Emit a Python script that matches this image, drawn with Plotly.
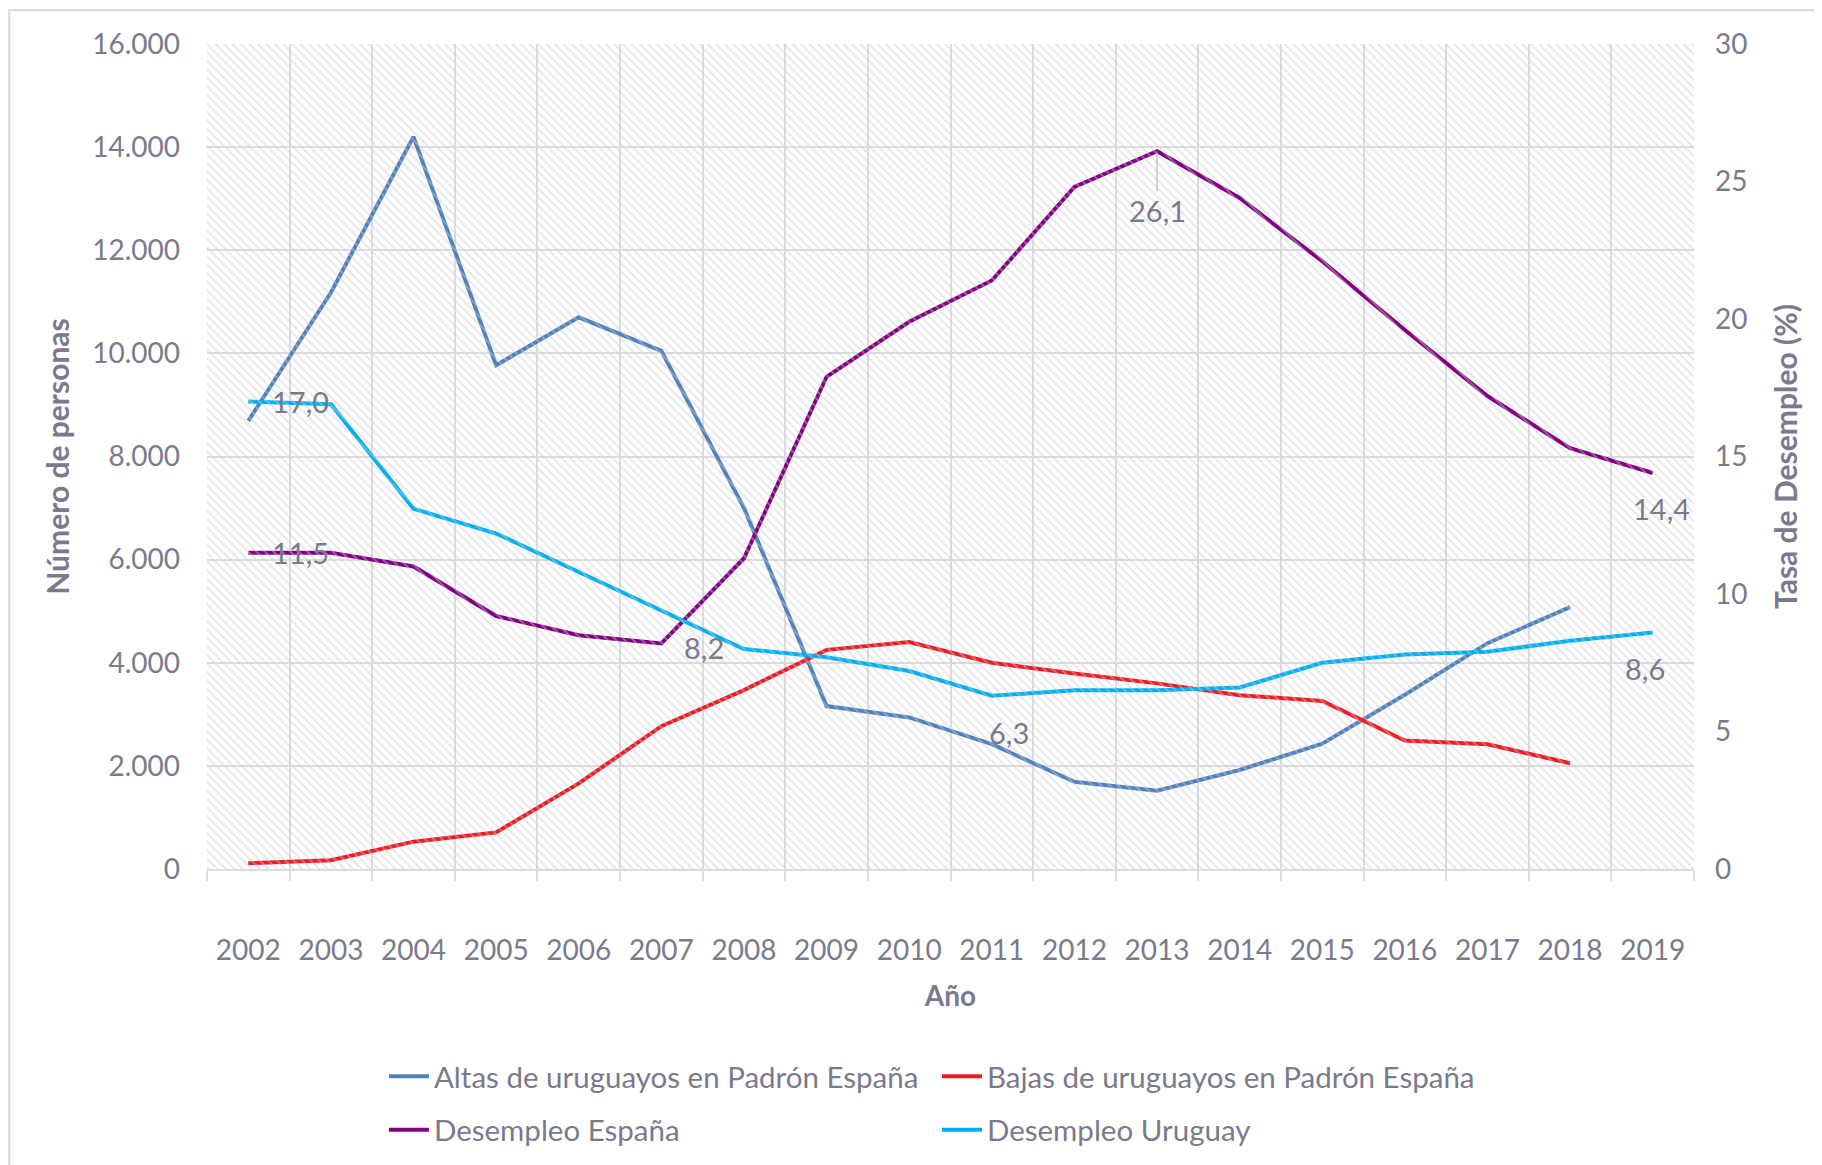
import plotly.graph_objects as go

# Data
years = [str(y) for y in range(2002, 2020)]

altas = [8690, 11180, 14200, 9770, 10700, 10050, 7000, 3160, 2940, 2420,
         1690, 1520, 1920, 2430, 3380, 4380, 5080, None]
bajas = [110, 170, 530, 710, 1660, 2770, 3470, 4250, 4400, 4000,
         3790, 3600, 3370, 3260, 2490, 2420, 2050, None]
desempleo_esp = [11.5, 11.5, 11.0, 9.2, 8.5, 8.2, 11.3, 17.9, 19.9, 21.4,
                 24.8, 26.1, 24.4, 22.1, 19.6, 17.2, 15.3, 14.4]
desempleo_uy = [17.0, 16.9, 13.1, 12.2, 10.8, 9.4, 8.0, 7.7, 7.2, 6.3,
                6.5, 6.5, 6.6, 7.5, 7.8, 7.9, 8.3, 8.6]

left_ticks = [0, 2000, 4000, 6000, 8000, 10000, 12000, 14000, 16000]
right_ticks = [0, 5, 10, 15, 20, 25, 30]

# which points carry a data label: (year index, xshift, yshift)
esp_labels = [(0, 52, 0), (5, 43, -4), (11, 2, -59), (17, 9, -35)]
uy_labels = [(0, 52, 0), (9, 17, -37), (17, -8, -36)]

TXT = "#7A7A8C"
GRID = "#DCDCE0"
FONT = "Lato"

fig = go.Figure()

# hatched plot-area background
fig.add_trace(go.Bar(
    x=[0], y=[left_ticks[-1]], width=[1], xaxis="x3", yaxis="y",
    marker=dict(color="rgba(0,0,0,0)", line=dict(width=0),
                pattern=dict(shape="\\", fgcolor="#CBCBD0", bgcolor="rgba(0,0,0,0)",
                             size=6, solidity=0.3)),
    showlegend=False, hoverinfo="skip"))

fig.add_trace(go.Scatter(x=years, y=altas, name="Altas de uruguayos en Padrón España",
                         mode="lines", line=dict(color="#4F81BD", width=4),
                         legend="legend"))
fig.add_trace(go.Scatter(x=years, y=bajas, name="Bajas de uruguayos en Padrón España",
                         mode="lines", line=dict(color="#ED1C24", width=4),
                         legend="legend"))
fig.add_trace(go.Scatter(x=years, y=desempleo_esp, name="Desempleo España", yaxis="y2",
                         mode="lines", line=dict(color="#800080", width=4),
                         legend="legend2"))
fig.add_trace(go.Scatter(x=years, y=desempleo_uy, name="Desempleo Uruguay", yaxis="y2",
                         mode="lines", line=dict(color="#00B0F0", width=4),
                         legend="legend2"))


def fmt(v):
    return f"{v:.1f}".replace(".", ",")


for series, labels in ((desempleo_esp, esp_labels), (desempleo_uy, uy_labels)):
    for i, dx, dy in labels:
        arrow = abs(dy) > 50
        fig.add_annotation(
            x=i, y=series[i], xref="x", yref="y2", text=fmt(series[i]),
            showarrow=arrow, arrowhead=0, arrowwidth=1, arrowcolor="#A6A6B0",
            ax=0, ay=-dy if arrow else 0, xshift=0 if arrow else dx,
            yshift=0 if arrow else dy, standoff=0,
            font=dict(family=FONT, size=29, color=TXT))

legend_style = dict(orientation="h", x=0.119, xanchor="left", yanchor="top",
                    entrywidth=498, itemwidth=40, bgcolor="rgba(0,0,0,0)",
                    font=dict(family=FONT, size=29.5, color=TXT))

fig.update_layout(
    width=1822, height=1165,
    margin=dict(l=199, r=136, t=36, b=304),
    paper_bgcolor="white", plot_bgcolor="white",
    separators=",.",
    font=dict(family=FONT, size=28, color=TXT),
    xaxis=dict(type="category", range=[-0.5, len(years) - 0.5], tickson="boundaries",
               showgrid=True, gridcolor=GRID,
               gridwidth=2, ticks="outside", ticklen=10, tickwidth=2, tickcolor=GRID,
               showline=True, linecolor=GRID, linewidth=2, ticklabelstandoff=55,
               tickangle=0,
               title=dict(text="<b>Año</b>", standoff=22, font=dict(size=28))),
    xaxis3=dict(overlaying="x", range=[-0.5, 0.5], visible=False),
    yaxis=dict(range=[0, left_ticks[-1]], tickvals=left_ticks, tickformat=",d",
               showgrid=True, gridcolor=GRID, gridwidth=2, zeroline=False,
               ticklabelstandoff=26,
               title=dict(text="<b>Número de personas</b>", standoff=13, font=dict(size=30))),
    yaxis2=dict(range=[0, right_ticks[-1]], tickvals=right_ticks, overlaying="y",
                side="right", showgrid=False, zeroline=False, ticklabelstandoff=20,
                title=dict(text="<b>Tasa de Desempleo (%)</b>", standoff=29,
                           font=dict(size=30))),
    bargap=0,
    legend=dict(legend_style, y=-0.22),
    legend2=dict(legend_style, y=-0.285),
    showlegend=True,
)

fig.add_shape(type="rect", xref="paper", yref="paper",
              x0=-0.133, x1=1.2, y0=-0.5, y1=1.041,
              line=dict(color="#D9D9D9", width=2), layer="below")

fig.write_html("out.html")
